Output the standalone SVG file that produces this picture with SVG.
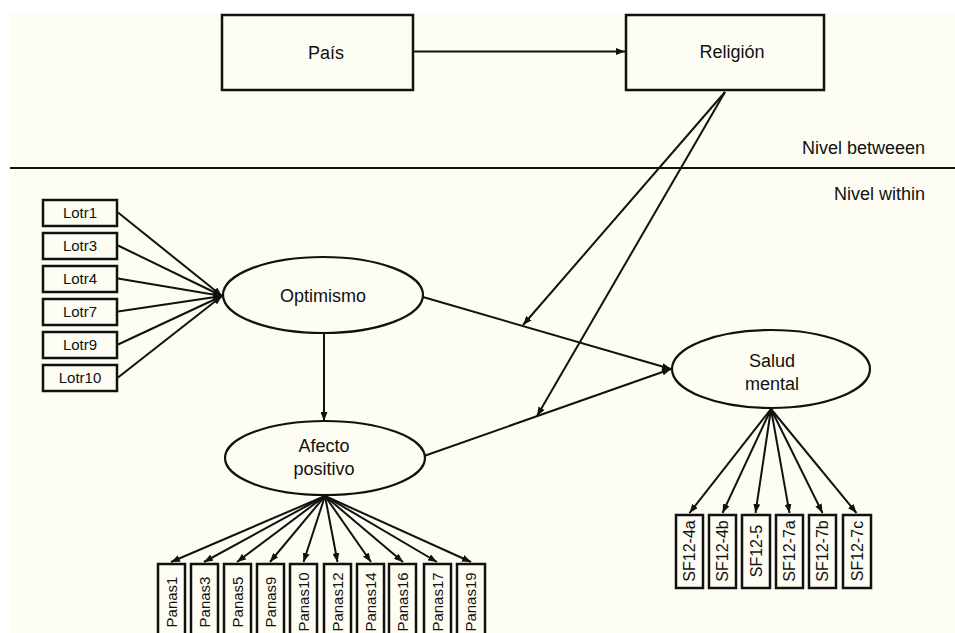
<svg xmlns="http://www.w3.org/2000/svg" width="955" height="633" viewBox="0 0 955 633">
<style>
text{font-family:"Liberation Sans",Arial,sans-serif;fill:#111;}
.big{font-size:18px;text-anchor:middle;}
.lbl{font-size:18px;text-anchor:end;}
.sm{font-size:15px;text-anchor:middle;}
.sf{font-size:16px;text-anchor:middle;}
.box{fill:#fdfdf3;stroke:#111;stroke-width:2.5;}
.ell{fill:#fdfdf3;stroke:#111;stroke-width:2.2;}
.c line{stroke:#111;stroke-width:2;marker-end:url(#ah);}
</style>
<defs>
<marker id="ah" markerUnits="userSpaceOnUse" markerWidth="9" markerHeight="7" refX="9" refY="3.5" orient="auto">
<path d="M0,0 L9,3.5 L0,7 z" fill="#111"/>
</marker>
</defs>
<rect x="0" y="0" width="955" height="633" fill="#ffffff"/>
<rect x="10" y="13" width="945" height="620" fill="#fdfdf3"/>
<line x1="10" y1="168" x2="955" y2="168" stroke="#111" stroke-width="2"/>
<text class="lbl" x="925" y="154">Nivel betweeen</text>
<text class="lbl" x="925" y="200">Nivel within</text>

<g class="c" id="connectors">
<line x1="414" y1="51.5" x2="625" y2="51.5"/>
<line x1="725" y1="92" x2="523" y2="325"/>
<line x1="725" y1="92" x2="537" y2="416"/>
<line x1="423" y1="297" x2="671" y2="369"/>
<line x1="424" y1="456" x2="671" y2="369"/>
<line x1="324" y1="334" x2="324" y2="421"/>
<line x1="118" y1="212.5" x2="222" y2="296"/>
<line x1="118" y1="245.5" x2="222" y2="296"/>
<line x1="118" y1="278.5" x2="222" y2="296"/>
<line x1="118" y1="311.5" x2="222" y2="296"/>
<line x1="118" y1="344.5" x2="222" y2="296"/>
<line x1="118" y1="377.5" x2="222" y2="296"/>
<line x1="325" y1="496" x2="171" y2="562"/>
<line x1="325" y1="496" x2="204" y2="562"/>
<line x1="325" y1="496" x2="237" y2="562"/>
<line x1="325" y1="496" x2="270" y2="562"/>
<line x1="325" y1="496" x2="303.5" y2="562"/>
<line x1="325" y1="496" x2="337.5" y2="562"/>
<line x1="325" y1="496" x2="371" y2="562"/>
<line x1="325" y1="496" x2="403" y2="562"/>
<line x1="325" y1="496" x2="437" y2="562"/>
<line x1="325" y1="496" x2="471" y2="562"/>
<line x1="771" y1="409" x2="689.5" y2="513"/>
<line x1="771" y1="409" x2="722.5" y2="513"/>
<line x1="771" y1="409" x2="755.5" y2="513"/>
<line x1="771" y1="409" x2="789.5" y2="513"/>
<line x1="771" y1="409" x2="822.5" y2="513"/>
<line x1="771" y1="409" x2="856.5" y2="513"/>
</g>

<g id="pais"><rect class="box" x="222" y="15" width="191" height="75"/><text class="big" x="326" y="59">País</text></g>
<g id="religion"><rect class="box" x="626" y="15" width="198" height="75"/><text class="big" x="732" y="58">Religión</text></g>

<g id="optimismo"><ellipse class="ell" cx="323" cy="295" rx="100" ry="38"/><text class="big" x="323" y="302">Optimismo</text></g>
<g id="afecto"><ellipse class="ell" cx="325" cy="458" rx="100" ry="37"/><text class="big" x="324" y="452">Afecto</text><text class="big" x="324" y="475">positivo</text></g>
<g id="salud"><ellipse class="ell" cx="771" cy="369" rx="99" ry="39"/><text class="big" x="772" y="367">Salud</text><text class="big" x="772" y="390">mental</text></g>

<g id="lotr1"><rect class="box" x="43" y="200" width="74" height="26"/><text class="sm" x="80" y="218">Lotr1</text></g>
<g id="lotr3"><rect class="box" x="43" y="233" width="74" height="26"/><text class="sm" x="80" y="251">Lotr3</text></g>
<g id="lotr4"><rect class="box" x="43" y="266" width="74" height="26"/><text class="sm" x="80" y="284">Lotr4</text></g>
<g id="lotr7"><rect class="box" x="43" y="299" width="74" height="26"/><text class="sm" x="80" y="317">Lotr7</text></g>
<g id="lotr9"><rect class="box" x="43" y="332" width="74" height="26"/><text class="sm" x="80" y="350">Lotr9</text></g>
<g id="lotr10"><rect class="box" x="43" y="365" width="74" height="26"/><text class="sm" x="80" y="383">Lotr10</text></g>

<g id="panas1"><rect class="box" x="158" y="564" width="27" height="80"/><text class="sm" transform="translate(177,602) rotate(-90)">Panas1</text></g>
<g id="panas3"><rect class="box" x="191" y="564" width="27" height="80"/><text class="sm" transform="translate(210,602) rotate(-90)">Panas3</text></g>
<g id="panas5"><rect class="box" x="224" y="564" width="27" height="80"/><text class="sm" transform="translate(243,602) rotate(-90)">Panas5</text></g>
<g id="panas9"><rect class="box" x="257" y="564" width="27" height="80"/><text class="sm" transform="translate(276,602) rotate(-90)">Panas9</text></g>
<g id="panas10"><rect class="box" x="290" y="564" width="27" height="80"/><text class="sm" transform="translate(309,602) rotate(-90)">Panas10</text></g>
<g id="panas12"><rect class="box" x="324" y="564" width="27" height="80"/><text class="sm" transform="translate(343,602) rotate(-90)">Panas12</text></g>
<g id="panas14"><rect class="box" x="357" y="564" width="27" height="80"/><text class="sm" transform="translate(376,602) rotate(-90)">Panas14</text></g>
<g id="panas16"><rect class="box" x="389" y="564" width="27" height="80"/><text class="sm" transform="translate(408,602) rotate(-90)">Panas16</text></g>
<g id="panas17"><rect class="box" x="424" y="564" width="27" height="80"/><text class="sm" transform="translate(443,602) rotate(-90)">Panas17</text></g>
<g id="panas19"><rect class="box" x="457" y="564" width="28" height="80"/><text class="sm" transform="translate(476,602) rotate(-90)">Panas19</text></g>

<g id="sf12-4a"><rect class="box" x="676" y="515" width="27" height="73"/><text class="sf" transform="translate(695,551) rotate(-90)">SF12-4a</text></g>
<g id="sf12-4b"><rect class="box" x="709" y="515" width="27" height="73"/><text class="sf" transform="translate(728,551) rotate(-90)">SF12-4b</text></g>
<g id="sf12-5"><rect class="box" x="742" y="515" width="28" height="73"/><text class="sf" transform="translate(762,551) rotate(-90)">SF12-5</text></g>
<g id="sf12-7a"><rect class="box" x="776" y="515" width="27" height="73"/><text class="sf" transform="translate(795,551) rotate(-90)">SF12-7a</text></g>
<g id="sf12-7b"><rect class="box" x="809" y="515" width="27" height="73"/><text class="sf" transform="translate(828,551) rotate(-90)">SF12-7b</text></g>
<g id="sf12-7c"><rect class="box" x="843" y="515" width="28" height="73"/><text class="sf" transform="translate(863,551) rotate(-90)">SF12-7c</text></g>
</svg>
